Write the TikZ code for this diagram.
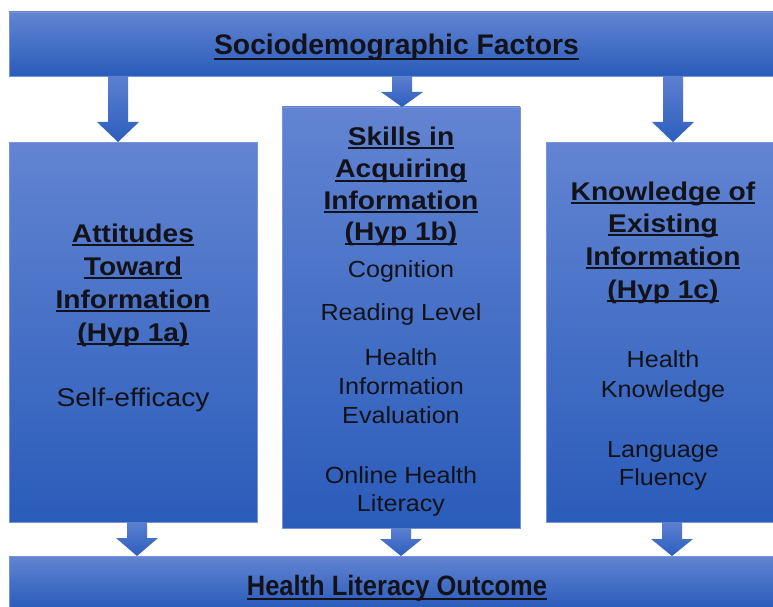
\documentclass[tikz,border=0pt]{standalone}
\usepackage{fontspec}
\usetikzlibrary{calc}
\newfontfamily\hdfont{Liberation Sans}[FakeStretch=1.1]
\newfontfamily\bdfont{Liberation Sans}[FakeStretch=1.08]
\newfontfamily\ttlfont{Liberation Sans}
\newfontfamily\btmfont{Liberation Sans}[FakeStretch=0.91]
\newcommand\hul[1]{\setbox0=\hbox{#1}\rlap{\rule[-0.17em]{\wd0}{0.075em}}\box0}
\definecolor{boxtop}{RGB}{98,132,210}
\definecolor{boxbot}{RGB}{42,92,186}
\definecolor{boxedge}{RGB}{120,150,215}
\definecolor{arrtop}{RGB}{92,128,208}
\definecolor{arrbot}{RGB}{44,94,190}
\definecolor{txt}{RGB}{18,18,24}
\tikzset{
  blk/.style={top color=boxtop, bottom color=boxbot, draw=boxedge, line width=0.6pt,
    inner sep=0pt, outer sep=0pt, anchor=north west},
  arr/.style={top color=arrtop, bottom color=arrbot, draw=none},
  hd/.style={font=\hdfont\bfseries\fontsize{25.6}{33}\selectfont, text=txt, anchor=base, inner sep=0pt},
  bd/.style={font=\bdfont\fontsize{23.3}{29}\selectfont, text=txt, anchor=base, inner sep=0pt},
  bdl/.style={font=\hdfont\fontsize{25.6}{33}\selectfont, text=txt, anchor=base, inner sep=0pt},
  ttl/.style={font=\ttlfont\bfseries\fontsize{28.3}{34}\selectfont, text=txt, anchor=base, inner sep=0pt},
  btm/.style={font=\btmfont\bfseries\fontsize{28}{34}\selectfont, text=txt, anchor=base, inner sep=0pt},
}
% #1 from node, #2 to node, #3 x position, #4 head length
\newcommand\darrow[4]{%
  \path[arr] let \p1=(#1.south), \p2=(#2.north) in
    (#3pt-10pt,\y1) -- (#3pt+10pt,\y1) -- (#3pt+10pt,\y2+#4pt) -- (#3pt+21pt,\y2+#4pt)
    -- (#3pt,\y2) -- (#3pt-21pt,\y2+#4pt) -- (#3pt-10pt,\y2+#4pt) -- cycle;}
\begin{document}
\begin{tikzpicture}[x=1pt,y=-1pt]
\useasboundingbox (0,0) rectangle (773,607);
% boxes
\node (top) [blk, minimum width=764pt, minimum height=64pt] at (9,12) {};
\node (lbox) [blk, minimum width=248pt, minimum height=380pt] at (9,142) {};
\node (mbox) [blk, minimum width=238pt, minimum height=421pt] at (282,107) {};
\node (rbox) [blk, minimum width=228pt, minimum height=380pt] at (546,142) {};
\node (bot) [blk, minimum width=764pt, minimum height=52pt] at (9,556) {};
% arrows
\darrow{top}{lbox}{118}{20}
\darrow{top}{mbox}{402}{15}
\darrow{top}{rbox}{673}{20}
\darrow{lbox}{bot}{137}{18}
\darrow{mbox}{bot}{401}{17}
\darrow{rbox}{bot}{672}{17}
% title texts
\node (ttl) [ttl] at (396.5,55) {\hul{Sociodemographic Factors}};
\node (btm) [btm] at (397,595) {\hul{Health Literacy Outcome}};
% left box
\node (l1) [hd] at (133,242) {\hul{Attitudes}};
\node (l2) [hd] at (133,275) {\hul{Toward}};
\node (l3) [hd] at (133,308) {\hul{Information}};
\node (l4) [hd] at (133,341) {\hul{(Hyp 1a)}};
\node (l5) [bdl] at (133,406) {Self-efficacy};
% middle box
\node (m1) [hd] at (401,145) {\hul{Skills in}};
\node (m2) [hd] at (401,177.5) {\hul{Acquiring}};
\node (m3) [hd] at (401,209) {\hul{Information}};
\node (m4) [hd] at (401,240.5) {\hul{(Hyp 1b)}};
\node (m5) [bd] at (401,277) {Cognition};
\node (m6) [bd] at (401,320) {Reading Level};
\node (m7) [bd] at (401,365) {Health};
\node (m8) [bd] at (401,394) {Information};
\node (m9) [bd] at (401,423) {Evaluation};
\node (m10) [bd] at (401,483) {Online Health};
\node (m11) [bd] at (401,511) {Literacy};
% right box
\node (r1) [hd] at (663,200) {\hul{Knowledge of}};
\node (r2) [hd] at (663,232) {\hul{Existing}};
\node (r3) [hd] at (663,265) {\hul{Information}};
\node (r4) [hd] at (663,298) {\hul{(Hyp 1c)}};
\node (r5) [bd] at (663,367) {Health};
\node (r6) [bd] at (663,397) {Knowledge};
\node (r7) [bd] at (663,457) {Language};
\node (r8) [bd] at (663,485) {Fluency};
\end{tikzpicture}
\end{document}
